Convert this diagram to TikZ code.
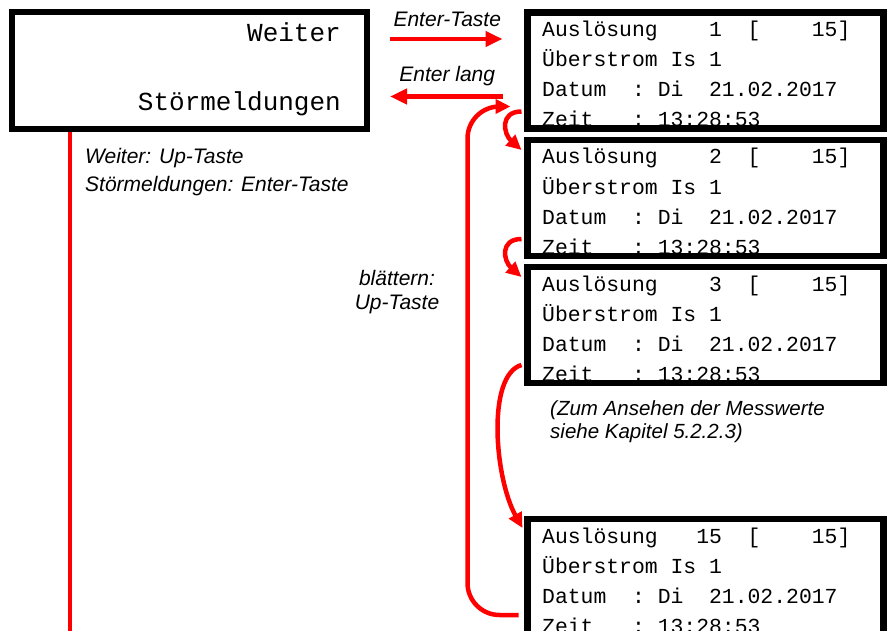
\documentclass[tikz,border=0pt]{standalone}
\usepackage{fontspec}
\setmainfont{Liberation Sans}
\setmonofont{Liberation Mono}
\usetikzlibrary{arrows.meta,positioning}

\begin{document}
\begin{tikzpicture}[x=1pt, y=-1pt,
    display/.style={
        rectangle,
        draw=black,
        line width=6.5pt,
        inner sep=0pt,
        outer sep=0pt,
        minimum width=356pt,
        minimum height=116pt
    },
    lcdline/.style={
        anchor=base west,
        inner sep=0pt,
        font=\ttfamily\fontsize{21.4}{26}\selectfont
    },
    hint/.style={
        inner sep=0pt,
        text=black,
        font=\fontsize{21}{24}\selectfont\itshape
    },
    keypress/.style={
        red,
        line width=4.5pt,
        -{Triangle[length=17pt,width=15pt]}
    },
    scroll/.style={
        red,
        line width=4.5pt,
        -{Triangle[length=15pt,width=14pt]}
    }
]
\useasboundingbox (0,0) rectangle (888,631);

% Menu display
\node[display, line width=6pt, minimum width=355pt, minimum height=117pt] (menu) at (189.5,70.5) {};
\node[lcdline, anchor=base east, font=\ttfamily\fontsize{26}{30}\selectfont] (weiter) at (341,42) {Weiter};
\node[lcdline, anchor=base east, font=\ttfamily\fontsize{26}{30}\selectfont] (stoer) at (341,111) {Störmeldungen};

% Fault records
\foreach \nr/\ypos/\no in {1/70.5/~1, 2/198/~2, 3/325/~3, 4/577/15} {
    \node[lcdline] (l\nr a) at (542,\ypos-34) {Auslösung~~~\no~~[~~~~15]};
    \node[lcdline] (l\nr b) at (542,\ypos-4) {Überstrom~Is~1};
    \node[lcdline] (l\nr c) at (542,\ypos+26) {Datum~~:~Di~~21.02.2017};
    \node[lcdline] (l\nr d) at (542,\ypos+56) {Zeit~~~:~13:28:53};
    \node[display] (b\nr) at (705.5,\ypos) {};
}

% Enter keys
\draw[keypress, shorten <=23pt, shorten >=25pt] ([yshift=31.5pt]menu.east) -- ([yshift=31.5pt]b1.west)
    node[hint, midway, anchor=base, yshift=12pt] (enter) {Enter-Taste};
\draw[keypress, shorten <=25pt, shorten >=23pt] ([yshift=-26pt]b1.west) -- ([yshift=-26pt]menu.east)
    node[hint, midway, anchor=base, yshift=15pt] (lang) {Enter lang};

% Up key line
\coordinate (bottom) at (70,640);
\draw[red, line width=4.5pt] ([xshift=-119.5pt, yshift=-3pt]menu.south) -- (bottom);
\node[hint, anchor=base west] (upkey) at (85,164) {Weiter: Up-Taste};
\node[hint, anchor=base west] (enterkey) at (85,191) {Störmeldungen: Enter-Taste};

% Scrolling
\draw[scroll] ([xshift=-6pt, yshift=17pt]b1.south west) .. controls +(-22,0) and +(-18,-16) .. ([xshift=-6pt, yshift=-10pt]b2.north west);
\draw[scroll] ([xshift=-6pt, yshift=17pt]b2.south west) .. controls +(-22,0) and +(-18,-16) .. ([xshift=-6pt, yshift=-10pt]b3.north west);
\draw[scroll] ([xshift=-6pt, yshift=18pt]b3.south west) .. controls +(-35,10) and +(-28,-50) .. ([xshift=-5pt, yshift=-9pt]b4.north west);
\coordinate (back) at ([xshift=-17pt, yshift=22pt]b1.south west);
\draw[scroll, rounded corners=32pt] ([xshift=-9pt, yshift=-96pt]b4.north west) -| ([xshift=-43pt]back) -- (back);
\node[hint, anchor=base] (blaettern) at (397,285) {blättern:};
\node[hint, anchor=base] (uptaste) at (397,309) {Up-Taste};

% Note
\node[hint, anchor=base west, font=\fontsize{20.5}{24}\selectfont\itshape] (note1) at (550,415) {(Zum Ansehen der Messwerte};
\node[hint, anchor=base west, font=\fontsize{20.5}{24}\selectfont\itshape] (note2) at (550,438) {siehe Kapitel 5.2.2.3)};

\end{tikzpicture}
\end{document}
